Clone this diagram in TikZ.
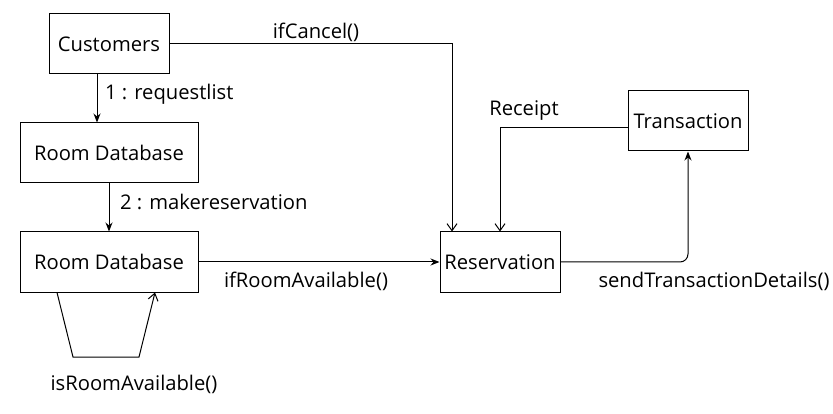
\documentclass[tikz,border=0pt]{standalone}
\usepackage{fontspec}
\setmainfont{Open Sans}
\usetikzlibrary{arrows.meta}
\begin{document}
\begin{tikzpicture}[x=1pt,y=-1pt,
  box/.style={draw,line width=1pt,minimum height=60pt,inner sep=0pt,font=\fontsize{20.2}{24}\selectfont},
  lbl/.style={inner sep=0pt,font=\fontsize{20.2}{24}\selectfont},
  conn/.style={line width=1pt},
  filled/.style={conn,-{Stealth[length=9pt,width=7pt]}},
  open/.style={conn,-{Straight Barb[length=7pt,width=10pt]}}]
\useasboundingbox (0,0) rectangle (833,414);
\node[box,minimum width=120pt] (cust) at (109,44) {Customers};
\node[box,minimum width=178pt] (rd1) at (109,153) {Room Database};
\node[box,minimum width=178pt] (rd2) at (109,262) {Room Database};
\node[box,minimum width=120pt] (res) at (500,262) {Reservation};
\node[box,minimum width=120pt] (trans) at (688,121) {Transaction};
% connectors
\draw[filled] ([xshift=-12pt]cust.south) -- ([xshift=-12pt]rd1.north);
\draw[filled] (rd1.south) -- (rd2.north);
\draw[open] (cust.east) -| ([xshift=-48pt]res.north);
\draw[filled] (rd2.east) -- (res.west);
\draw[open] ([yshift=-7pt]trans.west) -| (res.north);
\draw[filled,rounded corners=8pt] (res.east) -| (trans.south);
\coordinate (l1) at (73,357);
\coordinate (l2) at (139,357);
\draw[open] ([xshift=-52pt]rd2.south) -- (l1) -- (l2) -- ([xshift=46pt]rd2.south);
% labels
\node[lbl] (t1) at (316,32) {ifCancel()};
\node[lbl,anchor=west] (t2) at (105,94) {1 : requestlist};
\node[lbl,anchor=west] (t3) at (120,202) {2 : makereservation};
\node[lbl] (t4) at (306,281) {ifRoomAvailable()};
\node[lbl] (t5) at (134,384) {isRoomAvailable()};
\node[lbl] (t6) at (524,111) {Receipt};
\node[lbl] (t7) at (714,281) {sendTransactionDetails()};
\end{tikzpicture}
\end{document}
